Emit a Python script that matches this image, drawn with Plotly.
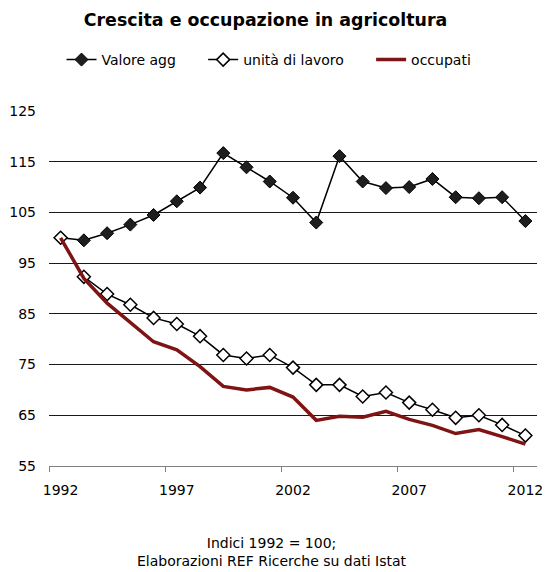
import plotly.graph_objects as go

years = list(range(1992, 2013))
valore_agg = [100.0, 99.5, 100.9, 102.6, 104.5, 107.2, 109.9, 116.7, 113.9, 111.1,
              107.9, 103.0, 116.1, 111.1, 109.8, 110.0, 111.6, 108.0, 107.8, 108.0, 103.3]
unita_lavoro = [100.0, 92.3, 88.9, 86.8, 84.2, 83.0, 80.6, 76.9, 76.2, 76.9,
                74.4, 71.0, 71.0, 68.7, 69.5, 67.5, 66.1, 64.5, 65.0, 63.1, 61.0]
occupati = [100.0, 92.0, 87.1, 83.4, 79.5, 77.9, 74.6, 70.7, 70.0, 70.5,
            68.6, 64.0, 64.8, 64.6, 65.8, 64.2, 63.0, 61.4, 62.2, 60.8, 59.3]
x_tick_labels = ["1992", "1997", "2002", "2007", "2012"]
y_ticks = [55, 65, 75, 85, 95, 105, 115, 125]

FONT = "DejaVu Sans, Verdana, sans-serif"
SP = "&nbsp;" * 5

W, H = 545, 572

fig = go.Figure()
fig.add_trace(go.Scatter(
    x=years, y=valore_agg, name="Valore agg" + SP, mode="lines+markers",
    line=dict(color="#000000", width=1.5),
    marker=dict(symbol="diamond", size=10, color="#1e1e1e",
                line=dict(color="#000000", width=1)),
))
fig.add_trace(go.Scatter(
    x=years, y=unita_lavoro, name="unità di lavoro" + SP, mode="lines+markers",
    line=dict(color="#000000", width=1.5),
    marker=dict(symbol="diamond", size=10, color="#ffffff",
                line=dict(color="#000000", width=1.5)),
))
fig.add_trace(go.Scatter(
    x=years, y=occupati, name="occupati", mode="lines",
    line=dict(color="#7f1414", width=3.5),
))

fig.update_layout(
    width=W, height=H,
    margin=dict(l=49, r=8, t=111, b=106),
    paper_bgcolor="white", plot_bgcolor="white",
    font=dict(family=FONT, size=14, color="#000000"),
    title=dict(text="<b>Crescita e occupazione in agricoltura</b>",
               font=dict(family=FONT, size=17.4, color="#000000"),
               x=265.5 / W, xref="container", xanchor="center",
               y=1 - 20 / H, yref="container", yanchor="middle"),
    legend=dict(orientation="h", xref="container", x=269 / W, xanchor="center",
                yref="container", y=1 - 60 / H, yanchor="middle",
                font=dict(family=FONT, size=14, color="#000000"),
                itemwidth=30, tracegroupgap=0, bgcolor="rgba(0,0,0,0)"),
    showlegend=True,
)

fig.update_xaxes(
    range=[1991.5, 2012.5], automargin=False,
    tickmode="array", tickvals=[int(t) for t in x_tick_labels], ticktext=x_tick_labels,
    ticks="", showgrid=False, zeroline=False,
    showline=True, linecolor="#808080", linewidth=1,
    ticklabelstandoff=11, ticklabeloverflow="allow",
    tickfont=dict(family=FONT, size=14, color="#000000"),
    minor=dict(ticks="outside", tickmode="array",
               tickvals=[1991.5, 1996.5, 2001.5, 2006.5, 2011.5],
               ticklen=5, tickcolor="#808080", tickwidth=1, showgrid=False),
)
fig.update_yaxes(
    range=[55, 125], automargin=False, tickmode="array", tickvals=y_ticks,
    ticktext=[str(v) for v in y_ticks],
    showgrid=True, gridcolor="#1a1a1a", gridwidth=1,
    zeroline=False, showline=False, ticks="",
    ticklabelstandoff=12,
    tickfont=dict(family=FONT, size=14, color="#000000"),
)

fig.add_annotation(
    text="Indici 1992 = 100;<br>Elaborazioni REF Ricerche su dati Istat",
    xref="paper", yref="paper", x=(272 - 49.4) / 487.2, y=(466 - 552) / 355.3,
    xanchor="center", yanchor="middle", showarrow=False,
    font=dict(family=FONT, size=14, color="#000000"),
)

fig.write_html("out.html",
               config={"displayModeBar": False},
               post_script="document.body.style.margin='0';document.body.style.overflow='hidden';")
